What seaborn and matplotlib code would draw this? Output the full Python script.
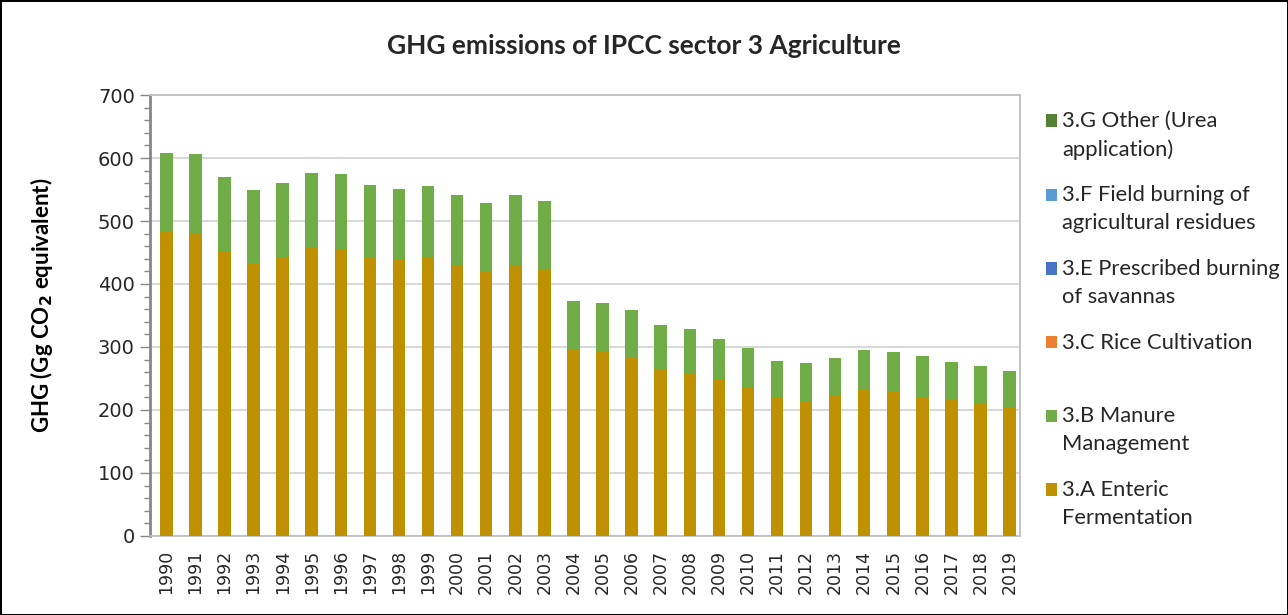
import pandas as pd
import numpy as np
import matplotlib
matplotlib.use("Agg")
import matplotlib.pyplot as plt
from matplotlib.patches import Patch, Rectangle
from matplotlib.legend_handler import HandlerPatch
from matplotlib.ticker import MultipleLocator
import seaborn as sns

# data (Gg CO2 equivalent)
years = [str(y) for y in range(1990, 2020)]
enteric = [484, 481, 453, 434, 443, 457, 455, 443, 439, 441,
           430, 420, 430, 423, 297, 294, 284, 265, 259, 247,
           237, 219, 215, 223, 233, 229, 220, 217, 210, 205]
manure = [124, 125, 117, 115, 117, 119, 119, 114, 112, 114,
          111, 109, 111, 109, 76, 76, 75, 70, 70, 66,
          61, 59, 59, 59, 63, 63, 66, 59, 60, 57]
rice = [0, 0, 0, 0, 0, 0, 0, 0, 0, 0, 0, 0, 0, 0, 0,
        0, 0, 0, 0, 0, 0, 0, 0, 0, 0, 0, 0, 0, 0, 0]
savannas = [0, 0, 0, 0, 0, 0, 0, 0, 0, 0, 0, 0, 0, 0, 0,
            0, 0, 0, 0, 0, 0, 0, 0, 0, 0, 0, 0, 0, 0, 0]
residues = [0, 0, 0, 0, 0, 0, 0, 0, 0, 0, 0, 0, 0, 0, 0,
            0, 0, 0, 0, 0, 0, 0, 0, 0, 0, 0, 0, 0, 0, 0]
urea = [0, 0, 0, 0, 0, 0, 0, 0, 0, 0, 0, 0, 0, 0, 0,
        0, 0, 0, 0, 0, 0, 0, 0, 0, 0, 0, 0, 0, 0, 0]

# bottom-to-top stacking order
series = ['3.A', '3.B', '3.C', '3.E', '3.F', '3.G']
labels = {'3.A': '3.A Enteric\nFermentation',
          '3.B': '3.B Manure\nManagement',
          '3.C': '3.C Rice Cultivation\n',
          '3.E': '3.E Prescribed burning\nof savannas',
          '3.F': '3.F Field burning of\nagricultural residues',
          '3.G': '3.G Other (Urea\napplication)'}
colors = {'3.A': '#BF9000', '3.B': '#70AD47', '3.C': '#ED7D31',
          '3.E': '#4472C4', '3.F': '#5B9BD5', '3.G': '#548235'}

df = pd.DataFrame({'year': years, '3.A': enteric, '3.B': manure, '3.C': rice,
                   '3.E': savannas, '3.F': residues, '3.G': urea})
cum = df[series].cumsum(axis=1)
cum['year'] = df['year']

sns.set_theme(style="white")
plt.rcParams['font.family'] = ['DejaVu Sans']

fig = plt.figure(figsize=(12.88, 6.15), dpi=100, edgecolor='black', linewidth=2)
ax = fig.add_axes([0.1165, 0.1285, 0.6755, 0.717])

# draw cumulative totals from the top layer down so lower layers cover upper
for s in reversed(series):
    sns.barplot(data=cum, x='year', y=s, color=colors[s], saturation=1,
                width=0.43, linewidth=0, ax=ax, zorder=3)

ax.set_ylim(0, 700)
ax.set_xlim(-0.56, 29.36)
ax.yaxis.set_major_locator(MultipleLocator(100))
ax.yaxis.set_minor_locator(MultipleLocator(20))
ax.yaxis.grid(True, which='major', color='#d4d4d4', linewidth=1.3, zorder=0)
ax.set_axisbelow(True)
ax.tick_params(axis='y', which='major', left=True, length=7, width=1,
               color='#868686', labelsize=14, labelcolor='#262626', pad=4)
ax.tick_params(axis='y', which='minor', left=True, length=4, width=1, color='#868686')
ax.tick_params(axis='x', length=0, labelsize=12.5, labelcolor='#262626', pad=10,
               labelrotation=90)

for side in ['top', 'right', 'bottom']:
    ax.spines[side].set_color('#bfbfbf')
    ax.spines[side].set_linewidth(1.3)
ax.spines['left'].set_color('#868686')
ax.spines['left'].set_linewidth(2)

ax.set_xlabel('')
ax.set_ylabel(r'GHG (Gg CO$_\mathbf{2}$ equivalent)', fontsize=16,
              fontweight='bold', family='Lato', color='black')
ax.yaxis.set_label_coords(-0.109, 0.524)

fig.suptitle('GHG emissions of IPCC sector 3 Agriculture', x=0.5, y=0.945,
             fontsize=19, fontweight='bold', family='Lato', color='#262626')


class TopSquare(HandlerPatch):
    # put the legend square beside the first line of a wrapped label
    def __init__(self, lift):
        super().__init__()
        self.lift = lift

    def create_artists(self, legend, orig_handle, xdescent, ydescent,
                       width, height, fontsize, trans):
        p = Rectangle((-xdescent, -ydescent + self.lift * fontsize), width, height,
                      facecolor=orig_handle.get_facecolor(), edgecolor='none',
                      transform=trans)
        return [p]


legend_order = ['3.G', '3.F', '3.E', '3.C', '3.B', '3.A']
handles = [Patch(facecolor=colors[s]) for s in legend_order]
hmap = {h: TopSquare(0.67) for h in handles}
leg = ax.legend(handles, [labels[s] for s in legend_order], handler_map=hmap,
                loc='upper left', bbox_to_anchor=(1026 / 1288, 1 - 91 / 615),
                bbox_transform=fig.transFigure, frameon=False,
                prop={'family': 'Lato', 'size': 15.8}, handlelength=0.5,
                handleheight=0.5, handletextpad=0.25, labelspacing=1.17)
for t in leg.get_texts():
    t.set_linespacing(1.5)
    t.set_color('#262626')

fig.savefig('out.png', dpi=100, edgecolor=fig.get_edgecolor())
